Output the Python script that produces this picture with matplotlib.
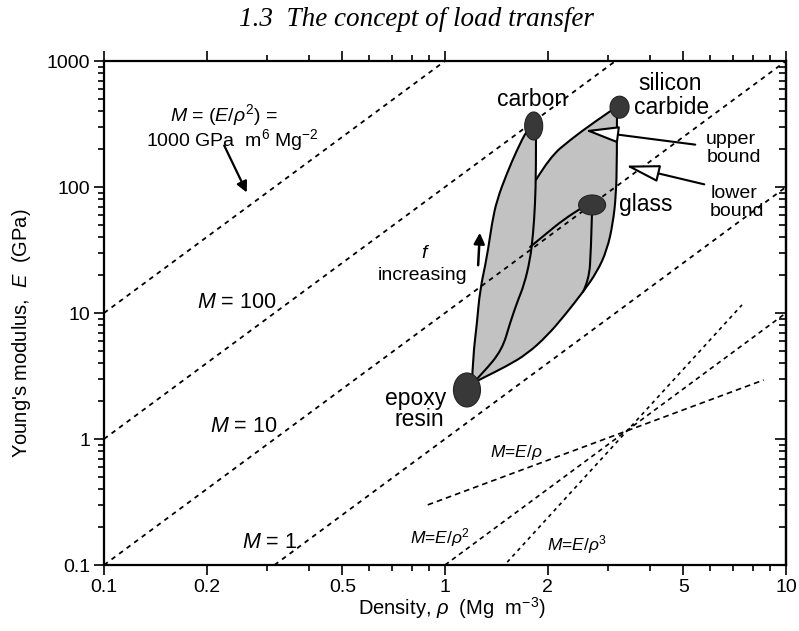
import numpy as np
import matplotlib
matplotlib.use('Agg')
import matplotlib.pyplot as plt
from matplotlib.patches import Ellipse, PathPatch
from matplotlib.path import Path
import matplotlib.transforms as mtransforms
from matplotlib.ticker import FixedLocator, FixedFormatter, NullFormatter

plt.rcParams['font.family'] = ['Liberation Sans', 'DejaVu Sans']
plt.rcParams['mathtext.fontset'] = 'custom'
plt.rcParams['mathtext.rm'] = 'Liberation Sans'
plt.rcParams['mathtext.it'] = 'Liberation Sans:italic'
plt.rcParams['mathtext.bf'] = 'Liberation Sans:bold'

# ---------------- data ----------------
materials = ['epoxy resin', 'carbon', 'silicon carbide', 'glass']
mat_rho = [1.16, 1.82, 3.25, 2.70]
mat_E = [2.45, 305, 430, 72]

carbon_upper_rho = [1.20, 1.208, 1.241, 1.266, 1.328, 1.373, 1.420, 1.520, 1.626, 1.740, 1.812]
carbon_upper_E = [2.78, 4.48, 8.33, 15.2, 27.8, 51.8, 78.9, 129, 197, 284, 322]
carbon_lower_rho = [1.849, 1.849, 1.837, 1.812, 1.776, 1.705, 1.637, 1.551, 1.470, 1.292, 1.208]
carbon_lower_E = [294, 136, 72.0, 41.6, 26.35, 16.68, 12.69, 8.33, 5.085, 3.341, 2.782]
sic_upper_rho = [1.849, 2.032, 2.326, 2.716, 3.151]
sic_upper_E = [114, 173, 236, 322, 424]
sic_lower_rho = [3.194, 3.194, 3.173, 3.109, 2.986, 2.791, 2.539, 2.248, 1.991, 1.740, 1.520, 1.292, 1.208]
sic_lower_E = [394, 164, 86.4, 51.8, 31.6, 21.15, 14.68, 9.64, 6.57, 4.73, 3.80, 3.05, 2.78]
glass_upper_rho = [2.600, 2.539, 2.218, 1.991, 1.776]
glass_upper_E = [72, 69.4, 54.7, 43.1, 33.4]
glass_lower_rho = [2.698, 2.680, 2.644, 2.539]
glass_lower_E = [62.2, 31.6, 18.3, 14.7]

# guide lines E = M rho^2 (endpoints)
M_values = [1000, 100, 10, 1]
M_rho_ends = [(0.1, 1.0), (0.1, 3.162), (0.1, 10.0), (0.3162, 10.0)]
M_E_ends = [(10, 1000), (1, 1000), (0.1, 1000), (0.1, 100)]

# index lines (lower right)
idx_names = ['M=E/rho', 'M=E/rho2', 'M=E/rho3']
idx_rho_ends = [(0.89, 8.6), (1.0, 10.0), (1.47, 7.43)]
idx_E_ends = [(0.30, 2.94), (0.10, 10.0), (0.095, 11.6)]

x_ticks = [0.1, 0.2, 0.5, 1, 2, 5, 10]
x_ticklabels = ['0.1', '0.2', '0.5', '1', '2', '5', '10']
y_ticks = [0.1, 1, 10, 100, 1000]
y_ticklabels = ['0.1', '1', '10', '100', '1000']

# ---------------- figure ----------------
W, H = 799, 631
fig = plt.figure(figsize=(W / 100, H / 100), dpi=100)
AX_L, AX_R, AX_T, AX_B = 104, 786, 61, 565
ax = fig.add_axes([AX_L / W, 1 - AX_B / H, (AX_R - AX_L) / W, (AX_B - AX_T) / H])
ax.set_xscale('log')
ax.set_yscale('log')
ax.set_xlim(0.1, 10)
ax.set_ylim(0.1, 1000)


def P(x, y):
    """reference pixel -> axes fraction"""
    return ((x - AX_L) / (AX_R - AX_L), (AX_B - y) / (AX_B - AX_T))


def smooth_path(rho, E):
    """quadratic-Bezier path using the read points as control points"""
    pts = list(zip(rho, E))
    verts = [pts[0]]
    codes = [Path.MOVETO]
    n = len(pts)
    for i in range(1, n - 1):
        a, b = pts[i], pts[i + 1]
        end = b if i == n - 2 else (np.sqrt(a[0] * b[0]), np.sqrt(a[1] * b[1]))
        verts += [a, end]
        codes += [Path.CURVE3, Path.CURVE3]
    if n == 2:
        verts.append(pts[1])
        codes.append(Path.LINETO)
    return verts, codes


# ticks
ax.xaxis.set_major_locator(FixedLocator(x_ticks))
ax.xaxis.set_major_formatter(FixedFormatter(x_ticklabels))
xminor = [v * d for d in (0.1, 1) for v in (3, 4, 6, 7, 8, 9)]
ax.xaxis.set_minor_locator(FixedLocator(xminor))
ax.xaxis.set_minor_formatter(NullFormatter())
ax.yaxis.set_major_locator(FixedLocator(y_ticks))
ax.yaxis.set_major_formatter(FixedFormatter(y_ticklabels))
yminor = [v * d for d in (0.1, 1, 10, 100) for v in range(2, 10)]
ax.yaxis.set_minor_locator(FixedLocator(yminor))
ax.yaxis.set_minor_formatter(NullFormatter())
ax.tick_params(which='both', direction='out', top=True, right=False, width=1.2, labelsize=14, pad=3)
ax.tick_params(which='major', length=7)
ax.tick_params(which='minor', length=4)
for s in ax.spines.values():
    s.set_linewidth(1.6)

sec = ax.secondary_yaxis('right')
sec.yaxis.set_major_locator(FixedLocator(y_ticks))
sec.yaxis.set_minor_locator(FixedLocator(yminor))
sec.yaxis.set_major_formatter(NullFormatter())
sec.yaxis.set_minor_formatter(NullFormatter())
sec.tick_params(which='both', direction='in', width=1.2)
sec.tick_params(which='major', length=8)
sec.tick_params(which='minor', length=5)
sec.spines['right'].set_linewidth(1.6)

# guide lines
for r, e in zip(M_rho_ends, M_E_ends):
    ax.plot(r, e, color='black', lw=1.3, linestyle=(0, (2.6, 2.6)), zorder=3)
idx_styles = [(0, (3.4, 2.4)), (0, (2.8, 2.4)), (0, (2.2, 2.4))]
for r, e, st in zip(idx_rho_ends, idx_E_ends, idx_styles):
    ax.plot(r, e, color='black', lw=1.2, linestyle=st, zorder=3)

# shaded region (outline built from the boundary curves)
pieces = [
    (carbon_upper_rho + [mat_rho[1]], carbon_upper_E + [mat_E[1]]),
    ([mat_rho[1]] + carbon_lower_rho[:2] + [sic_upper_rho[0]], [mat_E[1]] + carbon_lower_E[:2] + [sic_upper_E[0]]),
    (sic_upper_rho + [mat_rho[2]], sic_upper_E + [mat_E[2]]),
    ([mat_rho[2]] + sic_lower_rho, [mat_E[2]] + sic_lower_E),
]
all_v, all_c = [], []
for k, (r, e) in enumerate(pieces):
    v, c = smooth_path(r, e)
    if k > 0:
        v, c = v[1:], c[1:]
    all_v += v
    all_c += c
all_v.append(all_v[0])
all_c.append(Path.CLOSEPOLY)
ax.add_patch(PathPatch(Path(all_v, all_c), transform=ax.transData,
                       facecolor='#c2c2c2', edgecolor='none', zorder=2))

for r, e in [(carbon_upper_rho, carbon_upper_E), (carbon_lower_rho, carbon_lower_E),
             (sic_upper_rho, sic_upper_E), (sic_lower_rho, sic_lower_E),
             (glass_upper_rho, glass_upper_E), (glass_lower_rho, glass_lower_E)]:
    v, c = smooth_path(r, e)
    ax.add_patch(PathPatch(Path(v, c), transform=ax.transData, facecolor='none',
                           edgecolor='black', lw=1.5, zorder=4, capstyle='round'))

# material blobs
blob_px = [(27, 34), (18, 28), (19, 22), (27, 20)]
for r, e, (w, h) in zip(mat_rho, mat_E, blob_px):
    tr = fig.dpi_scale_trans + mtransforms.ScaledTranslation(r, e, ax.transData)
    ax.add_patch(Ellipse((0, 0), w / 100, h / 100, transform=tr,
                         facecolor='#383838', edgecolor='#222222', lw=0.8, zorder=5))

# ---------------- text ----------------
T = dict(transform=ax.transAxes, ha='center', va='center', zorder=6)
ax.text(*P(532, 100), 'carbon', fontsize=16.5, **T)
ax.text(*P(670, 83), 'silicon', fontsize=16.5, **T)
ax.text(*P(672, 107), 'carbide', fontsize=16.5, **T)
ax.text(*P(646, 204), 'glass', fontsize=16.5, **T)
ax.text(*P(416, 398), 'epoxy', fontsize=16.5, **T)
ax.text(*P(419, 420), 'resin', fontsize=16.5, **T)
ax.text(*P(731, 139), 'upper', fontsize=14, **T)
ax.text(*P(734, 158), 'bound', fontsize=14, **T)
ax.text(*P(734, 193), 'lower', fontsize=14, **T)
ax.text(*P(737, 212), 'bound', fontsize=14, **T)
ax.text(*P(426, 254), r'$f$', fontsize=14, **T)
ax.text(*P(423, 276), 'increasing', fontsize=14, **T)

ax.text(*P(224, 115), r'$M$ = ($E$/$\rho^2$) =', fontsize=14, **T)
ax.text(*P(232, 140), r'1000 GPa  m$^6$ Mg$^{-2}$', fontsize=14, **T)
ax.text(*P(237, 302), r'$M$ = 100', fontsize=15.5, **T)
ax.text(*P(244, 427), r'$M$ = 10', fontsize=15.5, **T)
ax.text(*P(270, 542), r'$M$ = 1', fontsize=15.5, **T)

ax.text(*P(516, 453), r'$M$=$E$/$\rho$', fontsize=12.5, **T)
ax.text(*P(440, 538), r'$M$=$E$/$\rho^2$', fontsize=12.5, **T)
ax.text(*P(577, 545), r'$M$=$E$/$\rho^3$', fontsize=12.5, **T)

# arrows
ax.annotate('', xy=P(248, 195), xytext=P(223, 143), xycoords='axes fraction',
            textcoords='axes fraction',
            arrowprops=dict(arrowstyle='-|>', color='black', lw=1.6, mutation_scale=16), zorder=6)
ax.annotate('', xy=P(480, 230), xytext=P(478, 268), xycoords='axes fraction',
            textcoords='axes fraction',
            arrowprops=dict(arrowstyle='-|>', color='black', lw=1.8, mutation_scale=16), zorder=6)
hollow = dict(arrowstyle='-|>,head_length=1.5,head_width=0.38', fc='white', ec='black',
              lw=1.5, mutation_scale=14)
ax.annotate('', xy=P(582, 130), xytext=P(698, 145), xycoords='axes fraction',
            textcoords='axes fraction', arrowprops=hollow, zorder=6)
ax.annotate('', xy=P(623, 165), xytext=P(707, 185), xycoords='axes fraction',
            textcoords='axes fraction', arrowprops=hollow, zorder=6)

# axis labels & title
fig.text(452 / W, 1 - 608 / H, r'Density, $\rho$  (Mg  m$^{-3}$)', fontsize=14.5, ha='center', va='center')
fig.text(22 / W, 1 - 333 / H, r"Young's modulus,  $E$  (GPa)", fontsize=14.5, ha='center', va='center',
         rotation=90)
fig.text(416 / W, 1 - 19 / H, '1.3  The concept of load transfer', fontsize=19.5,
         family='Liberation Serif', style='italic', ha='center', va='center')

fig.savefig('out.png', dpi=100)
